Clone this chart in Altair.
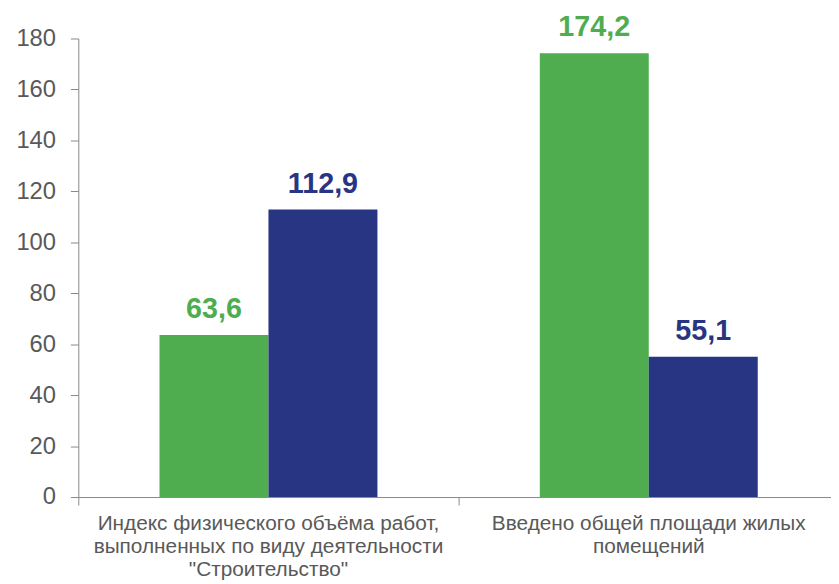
import altair as alt
import pandas as pd

categories = [
    'Индекс физического объёма работ,|выполненных по виду деятельности|"Строительство"',
    'Введено общей площади жилых|помещений',
]
series = ["A", "B"]
values_a = [63.6, 174.2]
values_b = [112.9, 55.1]
colors = ["#4FAD4F", "#283583"]

rows = []
for i, c in enumerate(categories):
    for s, v in zip(series, [values_a[i], values_b[i]]):
        rows.append({"cat": c, "series": s, "value": v,
                     "label": f"{v:.1f}".replace(".", ",")})
df = pd.DataFrame(rows)

base = alt.Chart(df).encode(
    x=alt.X("cat:N", sort=categories, title=None,
            scale=alt.Scale(paddingInner=0, paddingOuter=0),
            axis=alt.Axis(labelExpr="split(datum.label, '|')", labelAngle=0,
                          labelFont="Liberation Sans", labelFontSize=21,
                          labelColor="#595959", labelLineHeight=23,
                          labelPadding=8, bandPosition=0,
                          tickSize=8, tickColor="#898989", domainColor="#898989",
                          labelLimit=400)),
    xOffset=alt.XOffset("series:N", sort=series,
                        scale=alt.Scale(paddingInner=0, paddingOuter=0.745)),
)

bars = base.mark_bar().encode(
    y=alt.Y("value:Q", title=None,
            scale=alt.Scale(domain=[0, 180], nice=False),
            axis=alt.Axis(values=list(range(0, 181, 20)), grid=False,
                          labelFont="Liberation Sans", labelFontSize=24,
                          labelColor="#595959", labelPadding=15,
                          tickSize=8, tickColor="#898989", domainColor="#898989")),
    color=alt.Color("series:N", sort=series,
                    scale=alt.Scale(domain=series, range=colors), legend=None),
)

text = base.mark_text(dy=-17, baseline="alphabetic", font="Liberation Sans",
                      fontSize=29, fontWeight="bold").encode(
    y=alt.Y("value:Q"),
    text="label:N",
    color=alt.Color("series:N", sort=series,
                    scale=alt.Scale(domain=series, range=colors), legend=None),
)

chart = (bars + text).properties(
    width=768, height=463,
    autosize=alt.AutoSizeParams(type="none"),
    padding={"left": 71, "top": 28, "right": -8, "bottom": 85},
).configure_view(stroke=None)

chart.save("out.html", embed_options={"renderer": "svg", "actions": False})
